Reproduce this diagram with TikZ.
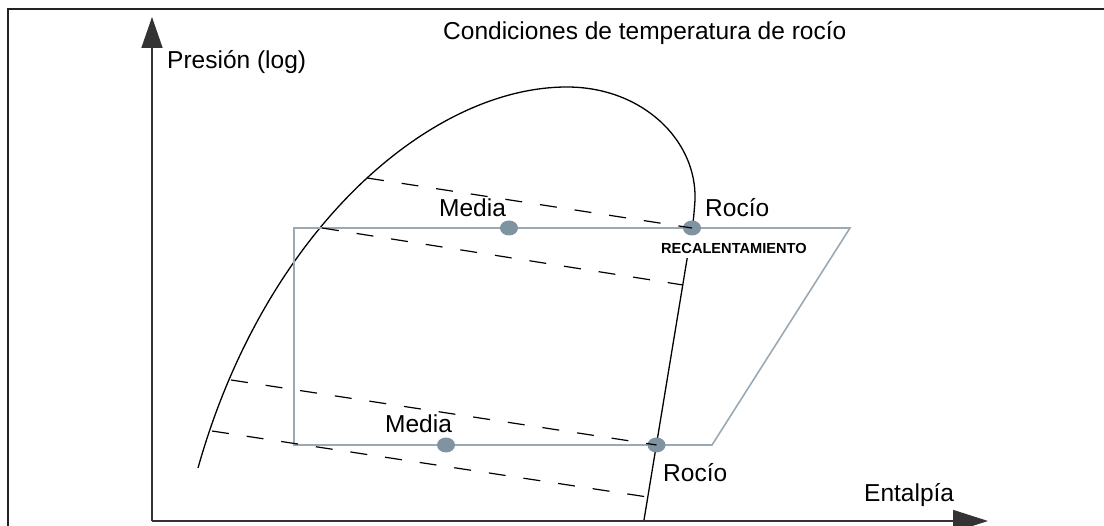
\documentclass[tikz,border=0pt]{standalone}
\usepackage{fontspec}
\setmainfont{Liberation Sans}
\usetikzlibrary{arrows.meta,shapes.geometric}
\definecolor{framec}{HTML}{222222}
\definecolor{axisc}{HTML}{333333}
\definecolor{boxc}{HTML}{9AA9B4}
\definecolor{dotc}{HTML}{7F93A1}
\tikzset{
  lbl/.style={inner sep=0pt, anchor=base west, font=\fontsize{24.5}{28}\selectfont},
  boldlbl/.style={inner xsep=2pt, inner ysep=0pt, anchor=base west, fill=white,
     text height=20pt, text depth=4pt, font=\bfseries\fontsize{14.6}{16}\selectfont},
  dome/.style={draw=black, line width=1.3pt},
  iso/.style={draw=black, line width=1.2pt, dash pattern=on 17pt off 18pt},
  axisline/.style={draw=axisc, line width=1.6pt},
  cycle box/.style={draw=boxc, line width=1.6pt, line join=miter},
  dotmark/.style={ellipse, fill=dotc, inner sep=0pt, minimum width=18pt, minimum height=15pt},
  framel/.style={draw=framec, line width=2pt}
}
\begin{document}
\begin{tikzpicture}[x=1pt,y=-1pt]
\useasboundingbox (0,0) rectangle (1104,526);
% frame
\coordinate (fa) at (8,9.5);
\coordinate (fb) at (1104,9.5);
\coordinate (fc) at (8,526);
\draw[framel] (fb) -- (fa) -- (fc);
% axes
\coordinate (o) at (152,521);
\coordinate (ytip) at (152,17);
\coordinate (xtip) at (988,521);
\draw[axisline, -{Triangle[length=31pt,width=21pt]}] (o) -- (ytip);
\draw[axisline, -{Triangle[length=35pt,width=22pt]}] (o) -- (xtip);
% saturation dome
\coordinate (dl) at (198,468);
\coordinate (dtop) at (567,87);
\coordinate (dr) at (695,200);
\coordinate (dm) at (691,235);
\coordinate (db) at (644,520);
\draw[dome] (dl) .. controls (265,230) and (430,87) .. (dtop)
  .. controls (642,87) and (697,140) .. (dr)
  .. controls (694,215) and (693,225) .. (dm) -- (db);
% isotherm start points
\coordinate (k1) at (367,178);
\coordinate (k2) at (322,228);
\coordinate (k3) at (231,380);
\coordinate (k4) at (212,431);
\coordinate (e2) at (683,285);
\coordinate (e4) at (647.5,497);
% cycle
\coordinate (c1) at (294,228);
\coordinate (c2) at (850,228);
\coordinate (c3) at (712,445);
\coordinate (c4) at (294,445);
\node[boldlbl] (recal) at (659,254) {RECALENTAMIENTO};
\draw[cycle box] (c1) -- (c2) -- (c3) -- (c4) -- cycle;
% points
\node[dotmark] (mediaA) at (509,228) {};
\node[dotmark] (rocioA) at (692,228) {};
\node[dotmark] (mediaB) at (446,445) {};
\node[dotmark] (rocioB) at (656.5,445) {};
% isotherms
\draw[iso] (k1) -- (rocioA.center);
\draw[iso] (k2) -- (e2);
\draw[iso] (k3) -- (rocioB.center);
\draw[iso] (k4) -- (e4);
% labels
\node[lbl] (title) at (443,40) {Condiciones de temperatura de rocío};
\node[lbl] (ylab) at (167,69) {Presión (log)};
\node[lbl] (xlab) at (864,502) {Entalpía};
\node[lbl] (tmediaA) at (439,217) {Media};
\node[lbl] (trocioA) at (705,217) {Rocío};
\node[lbl] (tmediaB) at (385,433) {Media};
\node[lbl] (trocioB) at (663,482) {Rocío};
\end{tikzpicture}
\end{document}
